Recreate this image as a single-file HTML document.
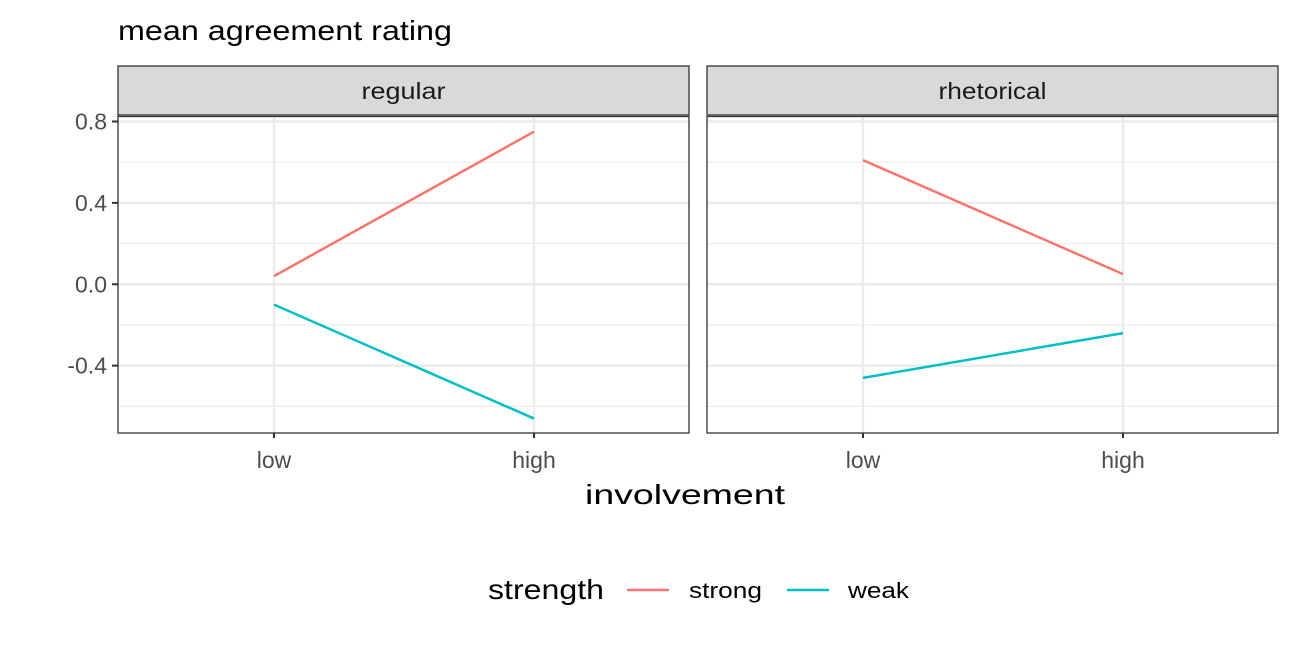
<!DOCTYPE html>
<html><head><meta charset="utf-8">
<style>
body{margin:0;background:#fff;}
svg text{font-family:"Liberation Sans",sans-serif;}
</style></head>
<body>
<svg id="chart" width="1296" height="648" xmlns="http://www.w3.org/2000/svg">
<text x="118" y="40" font-size="28" textLength="334" lengthAdjust="spacingAndGlyphs" fill="#000">mean agreement rating</text>
<text x="585" y="504" font-size="28" textLength="200" lengthAdjust="spacingAndGlyphs" fill="#000">involvement</text>
<g>
<text x="488" y="599" font-size="28" textLength="116" lengthAdjust="spacingAndGlyphs">strength</text>
<line x1="627" y1="590" x2="669" y2="590" stroke="#F8766D" stroke-width="2.5"/>
<text x="689" y="598" font-size="22" textLength="73" lengthAdjust="spacingAndGlyphs">strong</text>
<line x1="787" y1="590" x2="829" y2="590" stroke="#00BFC4" stroke-width="2.5"/>
<text x="848" y="598" font-size="22" textLength="61" lengthAdjust="spacingAndGlyphs">weak</text>
</g>
</svg>
<script>
const panels = ["regular", "rhetorical"];
const categories = ["low", "high"];
const strongValues = [[0.04, 0.75], [0.61, 0.05]];
const weakValues = [[-0.10, -0.66], [-0.46, -0.24]];
const yTicks = [0.8, 0.4, 0.0, -0.4];
const yTickLabels = ["0.8", "0.4", "0.0", "-0.4"];
const yMinor = [0.6, 0.2, -0.2, -0.6];

const svgEl = document.getElementById('chart');
const NS = "http://www.w3.org/2000/svg";
function mk(tag, attrs, parent){const e=document.createElementNS(NS,tag);for(const k in attrs)e.setAttribute(k,attrs[k]);(parent||svgEl).appendChild(e);return e;}
const yTop=116.5, yBottom=433, ymax=0.8245, ymin=-0.731;
function yScale(v){return yTop+(ymax-v)/(ymax-ymin)*(yBottom-yTop);}
const panelX=[118,707], panelW=571;
const stripLen=[84,108];
function xScale(p,i){return panelX[p]+156+i*260;}

panels.forEach((name,p)=>{
  const g=mk('g',{});
  
  
  const x0=panelX[p];
  yMinor.forEach(v=>{const l=mk('line',{x1:x0,x2:x0+panelW,y1:yScale(v),y2:yScale(v),stroke:'#ebebeb','stroke-width':1.2},g);
    
    });
  yTicks.forEach(v=>{const l=mk('line',{x1:x0,x2:x0+panelW,y1:yScale(v),y2:yScale(v),stroke:'#ebebeb','stroke-width':2.4},g);
    
    });
  categories.forEach((c,i)=>{const l=mk('line',{x1:xScale(p,i),x2:xScale(p,i),y1:yTop,y2:yBottom,stroke:'#ebebeb','stroke-width':2.4},g);
    
    
    const t=mk('text',{x:xScale(p,i),y:468,'font-size':23,fill:'#4d4d4d','text-anchor':'middle'},g);t.textContent=c;
    
    
    const tk=mk('line',{x1:xScale(p,i),x2:xScale(p,i),y1:yBottom,y2:yBottom+5,stroke:'#333','stroke-width':2},g);
    
    });
  [[strongValues,'#F8766D','strong'],[weakValues,'#00BFC4','weak']].forEach(([vals,col,nm])=>{
    const l=mk('polyline',{points:categories.map((c,i)=>xScale(p,i)+','+yScale(vals[p][i])).join(' '),fill:'none',stroke:col,'stroke-width':2.5},g);
    
    });
  const b=mk('rect',{x:x0,y:yTop,width:panelW,height:yBottom-yTop,fill:'none',stroke:'#333','stroke-width':1.3},g);
  
  
  const s=mk('rect',{x:x0,y:66,width:panelW,height:49,fill:'#d9d9d9',stroke:'#333','stroke-width':1.3},g);
  
  
  const st=mk('text',{x:x0+panelW/2-stripLen[p]/2,y:99,'font-size':23,fill:'#1a1a1a',textLength:stripLen[p],lengthAdjust:'spacingAndGlyphs'},g);st.textContent=name;
  
  
});
yTicks.forEach((v,i)=>{
  const t=mk('line',{x1:112,x2:118,y1:yScale(v),y2:yScale(v),stroke:'#333','stroke-width':2});
  
  
  const tx=mk('text',{x:107,y:yScale(v)+8,'font-size':23,fill:'#4d4d4d','text-anchor':'end'});tx.textContent=yTickLabels[i];
  
  
});
</script>
</body></html>
